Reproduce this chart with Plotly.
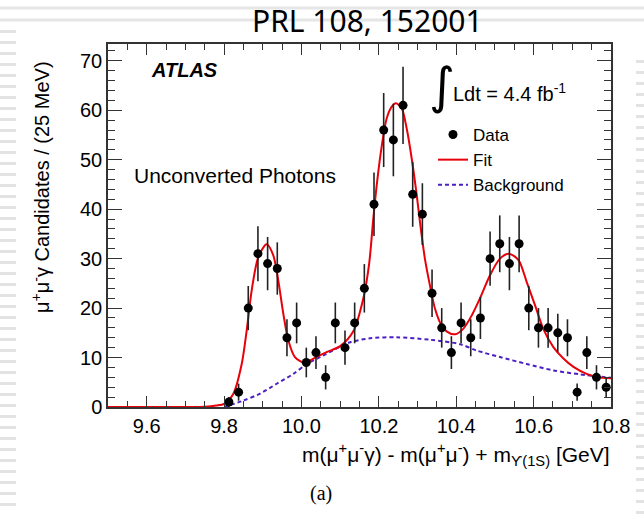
import numpy as np
import plotly.graph_objects as go

# ---------------- data ----------------
bin_centers = [9.8125, 9.8375, 9.8625, 9.8875, 9.9125, 9.9375, 9.9625, 9.9875,
               10.0125, 10.0375, 10.0625, 10.0875, 10.1125, 10.1375, 10.1625, 10.1875,
               10.2125, 10.2375, 10.2625, 10.2875, 10.3125, 10.3375, 10.3625, 10.3875,
               10.4125, 10.4375, 10.4625, 10.4875, 10.5125, 10.5375, 10.5625, 10.5875,
               10.6125, 10.6375, 10.6625, 10.6875, 10.7125, 10.7375, 10.7625, 10.7875]
counts = [1, 3, 20, 31, 29, 28, 14, 17,
          9, 11, 6, 17, 12, 17, 24, 41,
          56, 54, 61, 43, 39, 23, 16, 11,
          17, 14, 18, 30, 33, 29, 33, 20,
          16, 16, 15, 14, 3, 11, 6, 4]

fit_x = [9.50, 9.70, 9.75, 9.78, 9.80, 9.824, 9.8456, 9.8585, 9.8714, 9.8885, 9.910,
         9.927, 9.940, 9.953, 9.966, 9.983, 10.009, 10.031, 10.065, 10.100, 10.134,
         10.160, 10.175, 10.185, 10.194, 10.207, 10.220, 10.233, 10.244, 10.259,
         10.272, 10.285, 10.298, 10.308, 10.319, 10.332, 10.345, 10.360, 10.375,
         10.397, 10.418, 10.440, 10.461, 10.487, 10.513, 10.536, 10.561, 10.582,
         10.604, 10.625, 10.651, 10.677, 10.703, 10.737, 10.767, 10.800]
fit_y = [0.0, 0.0, 0.05, 0.3, 0.65, 2.7, 8.7, 15.5, 23.6, 30.3, 32.9,
         30.7, 25.6, 18.9, 13.5, 10.1, 8.9, 9.8, 11.1, 12.3, 15.3,
         22.0, 29.0, 37.5, 44.5, 52.5, 58.3, 60.7, 61.4, 60.4,
         56.3, 50.2, 42.8, 36.3, 30.0, 24.6, 19.9, 16.8, 15.3,
         14.7, 15.8, 18.5, 21.9, 26.6, 30.0, 31.0, 29.7, 25.3,
         20.5, 15.8, 12.1, 9.8, 8.1, 6.7, 6.0, 5.8]

bkg_x = [9.80, 9.85, 9.893, 9.936, 9.979, 10.014, 10.056, 10.100, 10.126, 10.177,
         10.246, 10.332, 10.410, 10.453, 10.513, 10.582, 10.651, 10.720, 10.800]
bkg_y = [0.0, 1.3, 2.7, 4.7, 6.7, 8.7, 10.4, 12.2, 13.1, 13.9,
         14.1, 13.6, 12.7, 11.4, 10.1, 8.7, 7.4, 6.6, 5.9]

x_ticks = [9.6, 9.8, 10.0, 10.2, 10.4, 10.6, 10.8]
y_ticks = [0, 10, 20, 30, 40, 50, 60, 70]

errors = np.sqrt(np.array(counts, dtype=float))

# ---------------- geometry helpers ----------------
W, H = 644, 514
L, R, T, B = 108, 33, 44, 107
PW, PH = W - L - R, H - T - B


def px(xp):
    return (xp - L) / PW


def py(yp):
    return (H - B - yp) / PH


FONT = "Liberation Sans, Arial, Helvetica, sans-serif"

fig = go.Figure()

fig.add_trace(go.Scatter(
    x=bkg_x, y=bkg_y, mode="lines", name="Background",
    line=dict(color="#4b1fc4", width=2, dash="4px,3px", shape="spline", smoothing=0.8),
    legendrank=3))
fig.add_trace(go.Scatter(
    x=fit_x, y=fit_y, mode="lines", name="Fit",
    line=dict(color="#e8000b", width=2, shape="spline", smoothing=0.8),
    legendrank=2))
fig.add_trace(go.Scatter(
    x=bin_centers, y=counts, mode="markers", name="Data",
    marker=dict(color="black", size=9),
    error_y=dict(type="data", array=errors, color="#222222", thickness=1.6, width=0),
    legendrank=1))

axis_common = dict(
    showgrid=False, zeroline=False, showline=True, linecolor="#333333", linewidth=1.5,
    mirror="allticks", ticks="inside", tickcolor="#333333", tickwidth=1.2,
    tickfont=dict(family=FONT, size=20, color="black"),
)

fig.update_xaxes(range=[9.5, 10.8], tickvals=x_ticks,
                 ticktext=[f"{v:.1f}" for v in x_ticks], ticklen=11,
                 minor=dict(dtick=0.05, tick0=9.5, ticklen=6, ticks="inside",
                            tickcolor="#333333", tickwidth=1),
                 **axis_common)
fig.update_yaxes(range=[0, 73.4], tickvals=y_ticks,
                 ticktext=[str(v) for v in y_ticks], ticklen=14,
                 minor=dict(dtick=2, tick0=0, ticklen=7, ticks="inside",
                            tickcolor="#333333", tickwidth=1),
                 **axis_common)

annotations = [
    dict(text="PRL 108, 152001", x=px(367), y=py(21), font=dict(family="Noto Sans", size=30, color="black")),
    dict(text="<b><i>ATLAS</i></b>", x=px(149), y=py(70), xanchor="left", font=dict(family=FONT, size=20, color="black")),
    dict(text="Unconverted Photons", x=px(132), y=py(175), xanchor="left", font=dict(family=FONT, size=21, color="black")),
    dict(text="∫", x=px(442), y=py(86), font=dict(family="DejaVu Sans", size=50, color="black")),
    dict(text="Ldt = 4.4 fb<sup>-1</sup>", x=px(451), y=py(92), xanchor="left", font=dict(family=FONT, size=20, color="black")),
    dict(text="m(μ<sup>+</sup>μ<sup>-</sup>γ) - m(μ<sup>+</sup>μ<sup>-</sup>) + m<sub>ϒ(1S)</sub> [GeV]",
         x=px(612), y=py(454), xanchor="right", font=dict(family=FONT, size=21, color="black")),
    dict(text="μ<sup>+</sup>μ<sup>-</sup>γ Candidates / (25 MeV)", x=px(40), y=py(187), textangle=-90,
         font=dict(family=FONT, size=20, color="black")),
    dict(text="(a)", x=px(321), y=py(493), font=dict(family="Liberation Serif, serif", size=20, color="black")),
]
for a in annotations:
    a.setdefault("xanchor", "center")
    a.update(xref="paper", yref="paper", showarrow=False, yanchor="middle")

# slide decorations (light grey rules at top and dashed edges)
shapes = [
    dict(type="line", xref="paper", yref="paper", x0=px(0), x1=px(W), y0=py(8), y1=py(8),
         line=dict(color="#e6e6e6", width=3), layer="below"),
    dict(type="line", xref="paper", yref="paper", x0=px(0), x1=px(W), y0=py(20), y1=py(20),
         line=dict(color="#e6e6e6", width=3), layer="below"),
    dict(type="line", xref="paper", yref="paper", x0=px(8), x1=px(8), y0=py(30), y1=py(H),
         line=dict(color="#e3e3e3", width=16, dash="3px,8px"), layer="below"),
    dict(type="line", xref="paper", yref="paper", x0=px(640), x1=px(640), y0=py(60), y1=py(H),
         line=dict(color="#e3e3e3", width=8, dash="3px,8px"), layer="below"),
]

fig.update_layout(
    width=W, height=H, autosize=False,
    margin=dict(l=L, r=R, t=T, b=B, pad=0),
    paper_bgcolor="white", plot_bgcolor="white",
    annotations=annotations, shapes=shapes,
    showlegend=True,
    legend=dict(x=px(433), y=py(117), xanchor="left", yanchor="top",
                bgcolor="rgba(0,0,0,0)", borderwidth=0,
                font=dict(family=FONT, size=17, color="black"),
                itemwidth=30, tracegroupgap=0),
)

fig.write_html("out.html")
